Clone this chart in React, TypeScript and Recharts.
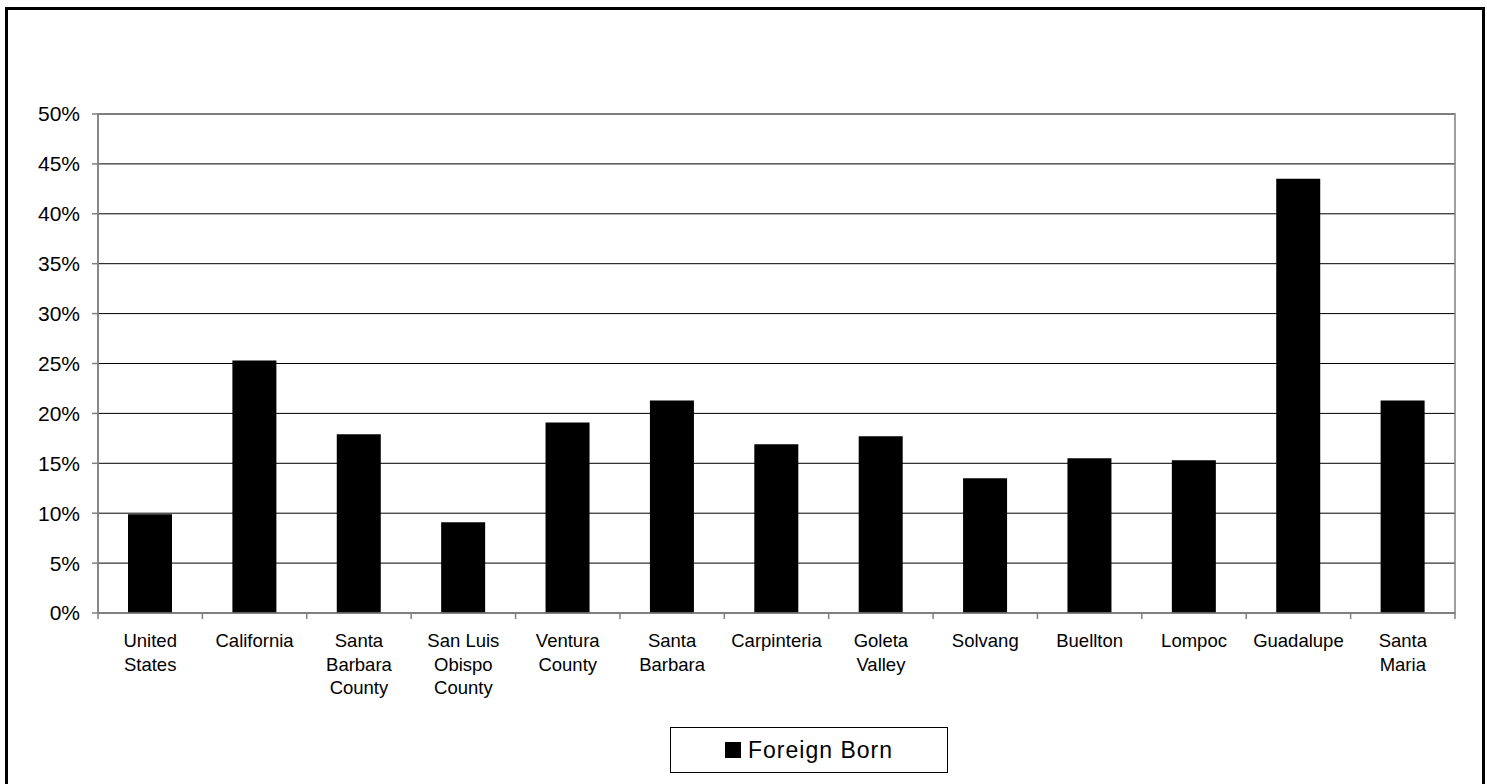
import React from "react";
import {
  BarChart,
  Bar,
  XAxis,
  YAxis,
  CartesianGrid,
  Legend,
  ReferenceArea,
} from "recharts";

const categories = [
  "United States",
  "California",
  "Santa Barbara County",
  "San Luis Obispo County",
  "Ventura County",
  "Santa Barbara",
  "Carpinteria",
  "Goleta Valley",
  "Solvang",
  "Buellton",
  "Lompoc",
  "Guadalupe",
  "Santa Maria",
];

const tickLines: string[][] = [
  ["United", "States"],
  ["California"],
  ["Santa", "Barbara", "County"],
  ["San Luis", "Obispo", "County"],
  ["Ventura", "County"],
  ["Santa", "Barbara"],
  ["Carpinteria"],
  ["Goleta", "Valley"],
  ["Solvang"],
  ["Buellton"],
  ["Lompoc"],
  ["Guadalupe"],
  ["Santa", "Maria"],
];

const foreignBorn = [9.9, 25.3, 17.9, 9.1, 19.1, 21.3, 16.9, 17.7, 13.5, 15.5, 15.3, 43.5, 21.3];

const yTicks = [0, 5, 10, 15, 20, 25, 30, 35, 40, 45, 50];

const data = categories.map((name, i) => ({
  name,
  "Foreign Born": foreignBorn[i],
}));

const FONT = "'Liberation Sans', Arial, sans-serif";

const CategoryTick = (props: any) => {
  const { x, y, payload, index } = props;
  const half = payload && payload.offset ? payload.offset : 52.2;
  const lines = tickLines[index] || [String(payload.value)];
  return (
    <g>
      <line x1={x - half} y1={y} x2={x - half} y2={y + 6} stroke="#808080" strokeWidth={1.5} />
      {index === categories.length - 1 && (
        <line x1={x + half} y1={y} x2={x + half} y2={y + 6} stroke="#808080" strokeWidth={1.5} />
      )}
      <text x={x} y={y + 34} textAnchor="middle" fontSize={18.5} fill="#000" fontFamily={FONT}>
        {lines.map((l, i) => (
          <tspan key={i} x={x} dy={i === 0 ? 0 : 23.5}>
            {l}
          </tspan>
        ))}
      </text>
    </g>
  );
};

const LegendBox = () => (
  <div
    style={{
      width: 276,
      height: 44,
      border: "1px solid #000",
      display: "flex",
      alignItems: "center",
      justifyContent: "center",
      fontFamily: FONT,
      fontSize: 23,
      letterSpacing: 1,
      background: "#fff",
    }}
  >
    <span style={{ display: "inline-block", width: 16, height: 16, background: "#000", marginRight: 7 }} />
    <span>Foreign Born</span>
  </div>
);

export default function App() {
  return (
    <div
      style={{
        position: "absolute",
        left: 0,
        top: 0,
        width: 1487,
        height: 784,
        overflow: "hidden",
        background: "#fff",
      }}
    >
      <BarChart
        width={1487}
        height={784}
        data={data}
        margin={{ top: 114, right: 32, left: 0, bottom: 11 }}
        barSize={44}
      >
        <CartesianGrid horizontal={true} vertical={false} stroke="#000" strokeWidth={1} />
        <ReferenceArea y1={0} y2={50} fill="none" stroke="#808080" strokeWidth={1.5} ifOverflow="visible" />
        <XAxis
          dataKey="name"
          interval={0}
          height={114}
          tickLine={false}
          tickSize={0}
          tickMargin={0}
          axisLine={{ stroke: "#808080", strokeWidth: 1.5 }}
          tick={<CategoryTick />}
        />
        <YAxis
          width={98}
          domain={[0, 50]}
          ticks={yTicks}
          tickFormatter={(v: number) => `${v}%`}
          tickSize={6}
          tickMargin={12}
          tickLine={{ stroke: "#808080", strokeWidth: 1.5 }}
          axisLine={{ stroke: "#808080", strokeWidth: 1.5 }}
          tick={{ fill: "#000", fontSize: 21, fontFamily: FONT }}
        />
        <Legend
          verticalAlign="bottom"
          content={<LegendBox />}
          wrapperStyle={{ left: 670, width: 278, height: 46, bottom: 11 }}
        />
        <Bar dataKey="Foreign Born" fill="#000" isAnimationActive={false} />
      </BarChart>
      <div
        style={{
          position: "absolute",
          left: 5,
          top: 7,
          width: 1480,
          height: 800,
          border: "3px solid #000",
          boxSizing: "border-box",
          pointerEvents: "none",
        }}
      />
    </div>
  );
}
